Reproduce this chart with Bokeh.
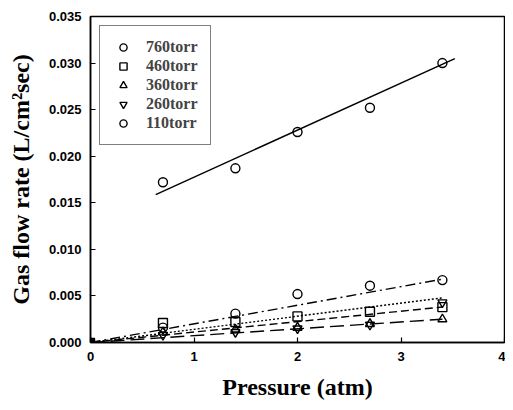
import numpy as np
from bokeh.plotting import figure
from bokeh.models import Legend, LegendItem, FixedTicker, NumeralTickFormatter, Range1d
from bokeh.embed import file_html
from bokeh.resources import INLINE

pressure = [0.7, 1.4, 2.0, 2.7, 3.4]
s760 = [0.0172, 0.0187, 0.0226, 0.0252, 0.0300]
s460 = [0.0021, 0.0022, 0.0028, 0.0033, 0.0038]
s360 = [0.0011, 0.0014, 0.0016, 0.0020, 0.0025]
s260 = [0.0008, 0.0011, 0.0015, 0.0019, 0.0043]
s110 = [0.0016, 0.0031, 0.0052, 0.0061, 0.0067]
labels = ["760torr", "460torr", "360torr", "260torr", "110torr"]
markers = ["circle", "square", "triangle", "inverted_triangle", "circle"]

# fitted lines
fit760_slope, fit760_icpt = 0.00505, 0.0127
fit760_x = [0.63, 3.52]
fit_slopes = {"460torr": 0.00112, "360torr": 0.000735, "260torr": 0.00141, "110torr": 0.0020}
fit_dash = {"460torr": "8 4", "360torr": "14 6", "260torr": "2 2", "110torr": "10 4 2 4"}
fit_x = [0.0, 3.4]

p = figure(width=505, height=402, output_backend="svg", toolbar_location=None,
           x_range=Range1d(0, 4), y_range=Range1d(0, 0.035),
           min_border_left=90, min_border_right=1, min_border_top=16, min_border_bottom=58)
p.grid.visible = False
p.outline_line_color = "black"
p.outline_line_width = 1.5
p.background_fill_color = "white"

for ax in (p.xaxis[0], p.yaxis[0]):
    ax.major_tick_in = 5
    ax.major_tick_out = 0
    ax.minor_tick_in = 0
    ax.minor_tick_out = 0
    ax.axis_line_width = 1.5
    ax.axis_line_color = "black"
    ax.major_tick_line_color = "black"
    ax.major_tick_line_width = 1.2
    ax.major_label_text_font = "Liberation Sans"
    ax.major_label_text_font_style = "bold"
    ax.major_label_text_font_size = "13px"
    ax.major_label_text_color = "black"
    ax.axis_label_text_font = "Liberation Serif"
    ax.axis_label_text_font_style = "bold"
    ax.axis_label_text_font_size = "24px"
    ax.axis_label_text_color = "black"

p.xaxis.ticker = FixedTicker(ticks=[0, 1, 2, 3, 4])
p.yaxis.ticker = FixedTicker(ticks=[0, 0.005, 0.010, 0.015, 0.020, 0.025, 0.030, 0.035])
p.yaxis.formatter = NumeralTickFormatter(format="0.000")
p.xaxis.axis_label = "Pressure (atm)"
p.yaxis.axis_label = "Gas flow rate (L/cm²sec)"
p.xaxis.major_label_standoff = 9
p.yaxis.major_label_standoff = 9
p.xaxis.axis_label_standoff = 10
p.yaxis.axis_label_standoff = 12

xf = np.array(fit760_x)
p.line(xf, fit760_slope * xf + fit760_icpt, line_color="black", line_width=1.5)

xl = np.array(fit_x)
for lab in ["460torr", "360torr", "260torr", "110torr"]:
    p.line(xl, fit_slopes[lab] * xl, line_color="black", line_width=1.4,
           line_dash=fit_dash[lab])

series = [s760, s460, s360, s260, s110]
items = []
for ys, lab, mk in zip(series, labels, markers):
    r = p.scatter(pressure, ys, marker=mk, size=9, fill_color=None,
                  line_color="black", line_width=1.4)
    items.append(LegendItem(label=lab, renderers=[r]))
    if lab != "760torr":
        p.scatter([0], [0], marker=mk, size=8, fill_color=None,
                  line_color="black", line_width=1.4)

legend = Legend(items=items, location="top_left")
legend.label_text_font = "Liberation Serif"
legend.label_text_font_style = "bold"
legend.label_text_font_size = "16px"
legend.border_line_color = "black"
legend.border_line_width = 1.2
legend.margin = 9
legend.padding = 12
legend.spacing = 1
legend.label_height = 18
legend.glyph_height = 18
legend.glyph_width = 22
legend.label_standoff = 12
legend.background_fill_alpha = 1
p.add_layout(legend)

open("out.html", "w").write(file_html(p, INLINE))
